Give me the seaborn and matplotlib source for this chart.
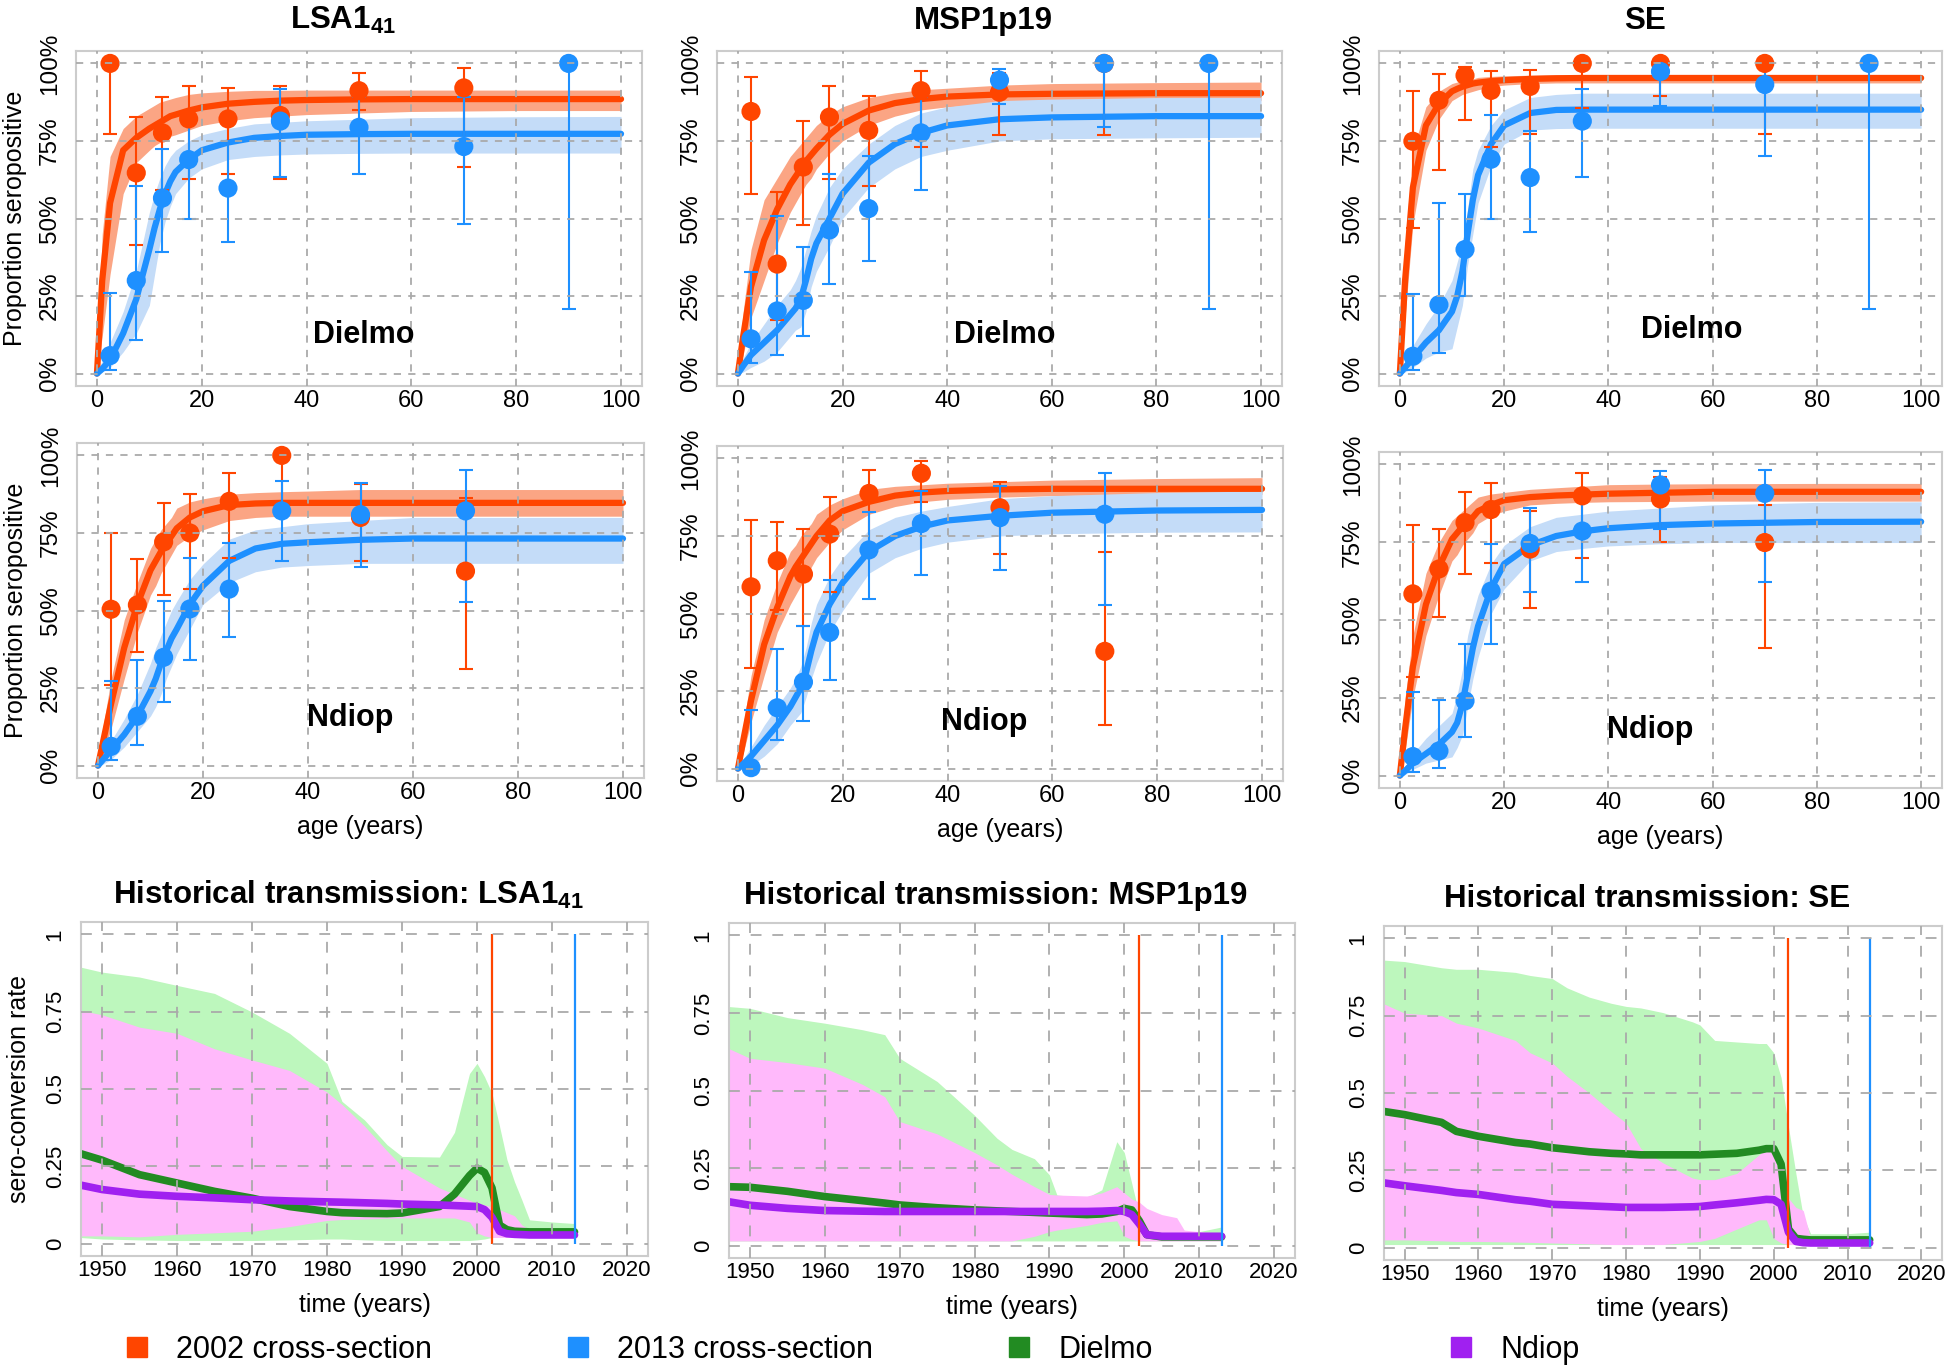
import numpy as np
import matplotlib.pyplot as plt
import seaborn as sns
from matplotlib.lines import Line2D

sns.set_style("white")
plt.rcParams['font.family'] = ['Liberation Sans', 'DejaVu Sans']
plt.rcParams['mathtext.fontset'] = 'custom'
plt.rcParams['mathtext.rm'] = 'Liberation Sans'
plt.rcParams['mathtext.bf'] = 'Liberation Sans:bold'
for k in ['text.color', 'axes.labelcolor', 'xtick.color', 'ytick.color']:
    plt.rcParams[k] = 'black'

# ---------------- data ----------------
ANTIGENS = ['LSA1', 'MSP1p19', 'SE']
SITES = ['Dielmo', 'Ndiop']
SURVEY_YEARS = [2002, 2013]
nan = np.nan

AGE_GROUPS = [2.5, 7.5, 12.5, 17.5, 25, 35, 50, 70, 90]
AGE_FIT = [0, 1, 2.5, 5, 7.5, 10, 11, 12, 13, 14, 15, 17.5, 20, 25, 30, 35, 40, 50, 60, 80, 100]

# observed seroprevalence per age group (2002 survey)
obs_2002 = {
    ('LSA1', 'Dielmo'): [1.0, 0.647, 0.776, 0.821, 0.821, 0.832, 0.912, 0.921, nan],
    ('MSP1p19', 'Dielmo'): [0.845, 0.353, 0.666, 0.827, 0.784, 0.912, 0.907, 1.0, nan],
    ('SE', 'Dielmo'): [0.749, 0.881, 0.961, 0.913, 0.926, 1.0, 1.0, 1.0, nan],
    ('LSA1', 'Ndiop'): [0.504, 0.518, 0.721, 0.75, 0.852, 1.0, 0.80, 0.627, nan],
    ('MSP1p19', 'Ndiop'): [0.586, 0.67, 0.627, 0.756, 0.887, 0.952, 0.841, 0.378, nan],
    ('SE', 'Ndiop'): [0.584, 0.664, 0.813, 0.855, 0.728, 0.899, 0.889, 0.749, nan],
}
obs_2002_lo = {
    ('LSA1', 'Dielmo'): [0.771, 0.414, 0.593, 0.628, 0.645, 0.628, 0.85, 0.666, nan],
    ('MSP1p19', 'Dielmo'): [0.578, 0.173, 0.479, 0.628, 0.604, 0.732, 0.768, 0.77, nan],
    ('SE', 'Dielmo'): [0.468, 0.656, 0.817, 0.731, 0.774, 0.857, 0.895, 0.772, nan],
    ('LSA1', 'Ndiop'): [0.26, 0.365, 0.55, 0.569, 0.668, 0.85, 0.66, 0.311, nan],
    ('MSP1p19', 'Ndiop'): [0.324, 0.512, 0.459, 0.57, 0.72, 0.86, 0.691, 0.141, nan],
    ('SE', 'Ndiop'): [0.318, 0.511, 0.647, 0.684, 0.54, 0.698, 0.752, 0.409, nan],
}
obs_2002_hi = {
    ('LSA1', 'Dielmo'): [1.0, 0.827, 0.893, 0.928, 0.921, 0.928, 0.968, 0.984, nan],
    ('MSP1p19', 'Dielmo'): [0.955, 0.586, 0.813, 0.928, 0.896, 0.974, 0.97, 1.0, nan],
    ('SE', 'Dielmo'): [0.911, 0.967, 0.988, 0.975, 0.979, 1.0, 1.0, 1.0, nan],
    ('LSA1', 'Ndiop'): [0.75, 0.665, 0.847, 0.875, 0.943, 1.0, 0.909, 0.864, nan],
    ('MSP1p19', 'Ndiop'): [0.802, 0.796, 0.774, 0.876, 0.962, 0.992, 0.925, 0.697, nan],
    ('SE', 'Ndiop'): [0.805, 0.792, 0.91, 0.941, 0.85, 0.971, 0.96, 0.87, nan],
}
# observed seroprevalence per age group (2013 survey)
obs_2013 = {
    ('LSA1', 'Dielmo'): [0.058, 0.30, 0.566, 0.69, 0.598, 0.814, 0.794, 0.732, 1.0],
    ('MSP1p19', 'Dielmo'): [0.112, 0.202, 0.236, 0.463, 0.532, 0.776, 0.946, 1.0, 1.0],
    ('SE', 'Dielmo'): [0.056, 0.222, 0.40, 0.691, 0.632, 0.814, 0.974, 0.932, 1.0],
    ('LSA1', 'Ndiop'): [0.062, 0.159, 0.349, 0.505, 0.569, 0.821, 0.809, 0.821, nan],
    ('MSP1p19', 'Ndiop'): [0.003, 0.196, 0.279, 0.439, 0.705, 0.79, 0.809, 0.82, nan],
    ('SE', 'Ndiop'): [0.061, 0.079, 0.24, 0.593, 0.746, 0.786, 0.934, 0.907, nan],
}
obs_2013_lo = {
    ('LSA1', 'Dielmo'): [0.013, 0.109, 0.393, 0.5, 0.425, 0.634, 0.645, 0.481, 0.208],
    ('MSP1p19', 'Dielmo'): [0.034, 0.059, 0.12, 0.289, 0.363, 0.593, 0.87, 0.794, 0.208],
    ('SE', 'Dielmo'): [0.013, 0.066, 0.251, 0.5, 0.455, 0.634, 0.862, 0.702, 0.208],
    ('LSA1', 'Ndiop'): [0.017, 0.068, 0.205, 0.341, 0.414, 0.659, 0.641, 0.526, nan],
    ('MSP1p19', 'Ndiop'): [0.0, 0.091, 0.152, 0.286, 0.547, 0.625, 0.64, 0.527, nan],
    ('SE', 'Ndiop'): [0.013, 0.024, 0.125, 0.423, 0.589, 0.623, 0.792, 0.621, nan],
}
obs_2013_hi = {
    ('LSA1', 'Dielmo'): [0.259, 0.604, 0.725, 0.834, 0.75, 0.918, 0.891, 0.891, 1.0],
    ('MSP1p19', 'Dielmo'): [0.329, 0.507, 0.409, 0.645, 0.70, 0.891, 0.982, 1.0, 1.0],
    ('SE', 'Dielmo'): [0.257, 0.549, 0.578, 0.835, 0.782, 0.918, 1.0, 0.99, 1.0],
    ('LSA1', 'Ndiop'): [0.273, 0.339, 0.531, 0.668, 0.718, 0.916, 0.911, 0.952, nan],
    ('MSP1p19', 'Ndiop'): [0.188, 0.384, 0.459, 0.609, 0.827, 0.895, 0.911, 0.952, nan],
    ('SE', 'Ndiop'): [0.27, 0.243, 0.422, 0.743, 0.861, 0.893, 0.98, 0.982, nan],
}

# fitted seroprevalence curves with credible bands
fit_2002 = {
    ('LSA1', 'Dielmo'): [0, 0.30, 0.55, 0.72, 0.76, 0.79, 0.80, 0.81, 0.82, 0.83, 0.835, 0.848, 0.858, 0.87, 0.876, 0.88, 0.882, 0.884, 0.885, 0.885, 0.885],
    ('MSP1p19', 'Dielmo'): [0, 0.12, 0.28, 0.43, 0.53, 0.61, 0.635, 0.66, 0.685, 0.705, 0.725, 0.77, 0.805, 0.848, 0.872, 0.885, 0.893, 0.90, 0.902, 0.904, 0.904],
    ('SE', 'Dielmo'): [0, 0.30, 0.60, 0.80, 0.87, 0.91, 0.918, 0.925, 0.93, 0.935, 0.938, 0.943, 0.946, 0.95, 0.952, 0.953, 0.953, 0.953, 0.953, 0.953, 0.953],
    ('LSA1', 'Ndiop'): [0, 0.08, 0.20, 0.38, 0.52, 0.63, 0.66, 0.69, 0.715, 0.74, 0.765, 0.80, 0.82, 0.84, 0.845, 0.847, 0.847, 0.847, 0.847, 0.847, 0.847],
    ('MSP1p19', 'Ndiop'): [0, 0.09, 0.22, 0.40, 0.52, 0.62, 0.65, 0.675, 0.70, 0.725, 0.75, 0.80, 0.83, 0.86, 0.88, 0.89, 0.895, 0.90, 0.902, 0.902, 0.902],
    ('SE', 'Ndiop'): [0, 0.15, 0.35, 0.55, 0.67, 0.76, 0.78, 0.80, 0.815, 0.83, 0.85, 0.87, 0.885, 0.895, 0.90, 0.903, 0.906, 0.909, 0.912, 0.912, 0.912],
}
fit_2002_lo = {
    ('LSA1', 'Dielmo'): [0, 0.12, 0.32, 0.58, 0.68, 0.72, 0.735, 0.745, 0.755, 0.765, 0.77, 0.785, 0.80, 0.815, 0.825, 0.83, 0.835, 0.84, 0.845, 0.848, 0.848],
    ('MSP1p19', 'Dielmo'): [0, 0.06, 0.18, 0.30, 0.42, 0.52, 0.55, 0.58, 0.61, 0.63, 0.66, 0.71, 0.75, 0.80, 0.83, 0.85, 0.86, 0.87, 0.875, 0.878, 0.88],
    ('SE', 'Dielmo'): [0, 0.18, 0.48, 0.72, 0.82, 0.88, 0.89, 0.90, 0.905, 0.91, 0.915, 0.925, 0.93, 0.935, 0.937, 0.937, 0.937, 0.937, 0.937, 0.937, 0.937],
    ('LSA1', 'Ndiop'): [0, 0.04, 0.12, 0.28, 0.43, 0.55, 0.58, 0.62, 0.65, 0.68, 0.71, 0.74, 0.76, 0.79, 0.80, 0.804, 0.804, 0.804, 0.804, 0.804, 0.804],
    ('MSP1p19', 'Ndiop'): [0, 0.05, 0.15, 0.30, 0.44, 0.53, 0.56, 0.59, 0.62, 0.65, 0.68, 0.73, 0.77, 0.82, 0.845, 0.86, 0.868, 0.875, 0.88, 0.884, 0.884],
    ('SE', 'Ndiop'): [0, 0.08, 0.25, 0.45, 0.58, 0.69, 0.71, 0.74, 0.76, 0.78, 0.81, 0.835, 0.85, 0.87, 0.875, 0.878, 0.88, 0.881, 0.882, 0.882, 0.882],
}
fit_2002_hi = {
    ('LSA1', 'Dielmo'): [0.02, 0.45, 0.70, 0.79, 0.83, 0.855, 0.865, 0.875, 0.88, 0.885, 0.89, 0.90, 0.905, 0.91, 0.913, 0.913, 0.914, 0.914, 0.914, 0.914, 0.914],
    ('MSP1p19', 'Dielmo'): [0.01, 0.20, 0.40, 0.56, 0.63, 0.70, 0.72, 0.74, 0.76, 0.78, 0.80, 0.835, 0.86, 0.89, 0.905, 0.915, 0.92, 0.93, 0.935, 0.938, 0.94],
    ('SE', 'Dielmo'): [0.02, 0.42, 0.72, 0.86, 0.91, 0.935, 0.94, 0.945, 0.948, 0.95, 0.955, 0.958, 0.96, 0.962, 0.964, 0.964, 0.964, 0.964, 0.964, 0.964, 0.964],
    ('LSA1', 'Ndiop'): [0.01, 0.13, 0.28, 0.47, 0.59, 0.70, 0.73, 0.76, 0.78, 0.80, 0.83, 0.85, 0.86, 0.875, 0.88, 0.883, 0.885, 0.89, 0.89, 0.89, 0.89],
    ('MSP1p19', 'Ndiop'): [0.01, 0.14, 0.30, 0.48, 0.60, 0.70, 0.72, 0.75, 0.77, 0.79, 0.82, 0.85, 0.87, 0.90, 0.91, 0.915, 0.92, 0.925, 0.93, 0.935, 0.938],
    ('SE', 'Ndiop'): [0.01, 0.25, 0.45, 0.65, 0.75, 0.82, 0.835, 0.85, 0.865, 0.88, 0.895, 0.905, 0.91, 0.92, 0.925, 0.93, 0.935, 0.937, 0.938, 0.939, 0.939],
}
fit_2013 = {
    ('LSA1', 'Dielmo'): [0, 0.015, 0.045, 0.13, 0.24, 0.40, 0.47, 0.53, 0.58, 0.62, 0.65, 0.69, 0.72, 0.745, 0.76, 0.766, 0.77, 0.772, 0.773, 0.773, 0.773],
    ('MSP1p19', 'Dielmo'): [0, 0.025, 0.06, 0.10, 0.14, 0.19, 0.21, 0.24, 0.30, 0.37, 0.42, 0.50, 0.58, 0.68, 0.74, 0.776, 0.80, 0.82, 0.826, 0.83, 0.83],
    ('SE', 'Dielmo'): [0, 0.02, 0.05, 0.10, 0.14, 0.20, 0.25, 0.33, 0.45, 0.56, 0.64, 0.74, 0.80, 0.84, 0.85, 0.851, 0.851, 0.851, 0.851, 0.851, 0.851],
    ('LSA1', 'Ndiop'): [0, 0.02, 0.05, 0.10, 0.16, 0.24, 0.28, 0.33, 0.37, 0.41, 0.44, 0.52, 0.58, 0.66, 0.70, 0.715, 0.72, 0.728, 0.732, 0.732, 0.732],
    ('MSP1p19', 'Ndiop'): [0, 0.015, 0.04, 0.09, 0.14, 0.20, 0.23, 0.26, 0.31, 0.38, 0.44, 0.53, 0.60, 0.70, 0.75, 0.78, 0.80, 0.815, 0.825, 0.832, 0.834],
    ('SE', 'Ndiop'): [0, 0.015, 0.04, 0.07, 0.10, 0.14, 0.17, 0.23, 0.32, 0.41, 0.48, 0.60, 0.68, 0.74, 0.77, 0.785, 0.795, 0.805, 0.81, 0.815, 0.816],
}
fit_2013_lo = {
    ('LSA1', 'Dielmo'): [0, 0.005, 0.02, 0.07, 0.13, 0.22, 0.32, 0.42, 0.49, 0.54, 0.58, 0.63, 0.66, 0.69, 0.70, 0.705, 0.708, 0.71, 0.711, 0.711, 0.711],
    ('MSP1p19', 'Dielmo'): [0, 0.005, 0.02, 0.04, 0.07, 0.12, 0.14, 0.15, 0.20, 0.28, 0.33, 0.41, 0.50, 0.60, 0.66, 0.70, 0.72, 0.75, 0.757, 0.76, 0.762],
    ('SE', 'Dielmo'): [0, 0.005, 0.02, 0.05, 0.07, 0.08, 0.15, 0.22, 0.35, 0.45, 0.55, 0.67, 0.74, 0.785, 0.79, 0.791, 0.791, 0.791, 0.791, 0.791, 0.791],
    ('LSA1', 'Ndiop'): [0, 0.005, 0.02, 0.06, 0.11, 0.16, 0.19, 0.23, 0.28, 0.32, 0.36, 0.44, 0.52, 0.59, 0.625, 0.64, 0.645, 0.652, 0.652, 0.652, 0.652],
    ('MSP1p19', 'Ndiop'): [0, 0.003, 0.01, 0.04, 0.08, 0.14, 0.16, 0.18, 0.23, 0.29, 0.34, 0.44, 0.51, 0.63, 0.68, 0.71, 0.73, 0.75, 0.757, 0.762, 0.763],
    ('SE', 'Ndiop'): [0, 0.003, 0.02, 0.04, 0.05, 0.06, 0.09, 0.13, 0.22, 0.31, 0.38, 0.52, 0.60, 0.69, 0.72, 0.73, 0.738, 0.745, 0.749, 0.749, 0.749],
}
fit_2013_hi = {
    ('LSA1', 'Dielmo'): [0.01, 0.04, 0.10, 0.20, 0.33, 0.52, 0.58, 0.63, 0.67, 0.70, 0.72, 0.75, 0.77, 0.79, 0.805, 0.81, 0.815, 0.82, 0.825, 0.828, 0.829],
    ('MSP1p19', 'Dielmo'): [0.01, 0.05, 0.10, 0.16, 0.22, 0.27, 0.30, 0.34, 0.40, 0.46, 0.51, 0.60, 0.66, 0.74, 0.80, 0.84, 0.86, 0.88, 0.885, 0.89, 0.89],
    ('SE', 'Dielmo'): [0.01, 0.04, 0.09, 0.16, 0.22, 0.30, 0.36, 0.42, 0.53, 0.66, 0.72, 0.80, 0.85, 0.89, 0.90, 0.904, 0.904, 0.904, 0.904, 0.904, 0.904],
    ('LSA1', 'Ndiop'): [0.01, 0.04, 0.08, 0.15, 0.23, 0.33, 0.38, 0.42, 0.46, 0.50, 0.53, 0.60, 0.65, 0.73, 0.76, 0.77, 0.78, 0.79, 0.80, 0.80, 0.80],
    ('MSP1p19', 'Ndiop'): [0.01, 0.03, 0.07, 0.14, 0.20, 0.26, 0.29, 0.33, 0.39, 0.47, 0.53, 0.62, 0.68, 0.77, 0.81, 0.83, 0.845, 0.87, 0.88, 0.89, 0.895],
    ('SE', 'Ndiop'): [0.01, 0.03, 0.07, 0.12, 0.16, 0.20, 0.26, 0.34, 0.45, 0.52, 0.58, 0.68, 0.74, 0.80, 0.83, 0.84, 0.85, 0.86, 0.87, 0.878, 0.88],
}

# historical sero-conversion rates
hist_years = {
    'LSA1': [1947, 1950, 1955, 1960, 1965, 1970, 1975, 1980, 1982, 1985, 1988, 1990, 1995, 1997, 1999,
             2000, 2001, 2002, 2003, 2004, 2005, 2006, 2007, 2010, 2013],
    'MSP1p19': [1947, 1950, 1955, 1960, 1965, 1968, 1970, 1975, 1980, 1983, 1985, 1988, 1990, 1991, 1995,
                1997, 1999, 2000, 2001, 2002, 2003, 2005, 2007, 2008, 2010, 2013],
    'SE': [1947, 1950, 1955, 1957, 1960, 1965, 1967, 1970, 1972, 1975, 1978, 1980, 1982, 1985, 1989, 1990,
           1992, 1995, 1998, 1999, 2000, 2001, 2002, 2003, 2004, 2005, 2010, 2013],
}
dielmo_rate = {
    'LSA1': [0.292, 0.27, 0.223, 0.196, 0.169, 0.147, 0.12, 0.104, 0.10, 0.098, 0.097, 0.099, 0.12, 0.16, 0.22,
             0.244, 0.23, 0.18, 0.06, 0.045, 0.04, 0.039, 0.038, 0.038, 0.038],
    'MSP1p19': [0.19, 0.188, 0.175, 0.158, 0.145, 0.137, 0.131, 0.122, 0.115, 0.112, 0.11, 0.107, 0.105, 0.104, 0.10,
                0.102, 0.11, 0.12, 0.115, 0.08, 0.035, 0.028, 0.028, 0.028, 0.028, 0.028],
    'SE': [0.441, 0.43, 0.405, 0.376, 0.36, 0.34, 0.335, 0.323, 0.318, 0.31, 0.305, 0.303, 0.30, 0.30, 0.30, 0.30,
           0.302, 0.305, 0.315, 0.32, 0.32, 0.27, 0.06, 0.03, 0.027, 0.025, 0.025, 0.025],
}
dielmo_lo = {
    'LSA1': [0.02, 0.015, 0.012, 0.01, 0.01, 0.01, 0.012, 0.015, 0.015, 0.012, 0.01, 0.01, 0.01, 0.01, 0.01,
             0.012, 0.015, 0.02, 0.025, 0.025, 0.025, 0.025, 0.025, 0.025, 0.025],
    'MSP1p19': [0.015, 0.015, 0.015, 0.015, 0.015, 0.015, 0.015, 0.015, 0.015, 0.015, 0.015, 0.015, 0.015, 0.015,
                0.015, 0.015, 0.015, 0.015, 0.015, 0.015, 0.015, 0.015, 0.015, 0.015, 0.015, 0.015],
    'SE': [0.01, 0.01, 0.01, 0.01, 0.01, 0.01, 0.01, 0.01, 0.01, 0.01, 0.01, 0.01, 0.01, 0.01, 0.01, 0.01,
           0.01, 0.01, 0.01, 0.01, 0.01, 0.01, 0.01, 0.01, 0.01, 0.01, 0.01, 0.01],
}
dielmo_hi = {
    'LSA1': [0.895, 0.878, 0.862, 0.835, 0.809, 0.749, 0.68, 0.583, 0.46, 0.40, 0.32, 0.282, 0.28, 0.36, 0.55,
             0.583, 0.54, 0.486, 0.38, 0.271, 0.20, 0.14, 0.077, 0.07, 0.065],
    'MSP1p19': [0.771, 0.765, 0.735, 0.717, 0.696, 0.68, 0.604, 0.529, 0.42, 0.346, 0.31, 0.28, 0.228, 0.163, 0.155,
                0.18, 0.335, 0.30, 0.20, 0.10, 0.06, 0.05, 0.045, 0.04, 0.045, 0.06],
    'SE': [0.93, 0.925, 0.905, 0.90, 0.90, 0.89, 0.88, 0.87, 0.84, 0.81, 0.79, 0.78, 0.775, 0.76, 0.73, 0.72,
           0.67, 0.665, 0.66, 0.66, 0.63, 0.55, 0.39, 0.24, 0.10, 0.045, 0.045, 0.05],
}
ndiop_rate = {
    'LSA1': [0.19, 0.175, 0.16, 0.153, 0.148, 0.142, 0.138, 0.135, 0.134, 0.132, 0.13, 0.128, 0.125, 0.123, 0.121,
             0.12, 0.11, 0.085, 0.04, 0.032, 0.03, 0.029, 0.028, 0.028, 0.028],
    'MSP1p19': [0.142, 0.13, 0.12, 0.113, 0.111, 0.11, 0.11, 0.11, 0.11, 0.11, 0.11, 0.11, 0.11, 0.11, 0.11,
                0.111, 0.113, 0.11, 0.10, 0.07, 0.035, 0.03, 0.03, 0.03, 0.03, 0.03],
    'SE': [0.21, 0.20, 0.185, 0.178, 0.172, 0.155, 0.15, 0.14, 0.138, 0.135, 0.132, 0.13, 0.13, 0.13, 0.132, 0.133,
           0.138, 0.145, 0.153, 0.156, 0.155, 0.14, 0.05, 0.02, 0.016, 0.015, 0.015, 0.015],
}
ndiop_lo = {
    'LSA1': [0.025, 0.025, 0.022, 0.03, 0.035, 0.04, 0.055, 0.075, 0.078, 0.08, 0.082, 0.083, 0.083, 0.083, 0.07,
             0.035, 0.025, 0.02, 0.02, 0.02, 0.02, 0.02, 0.02, 0.02, 0.02],
    'MSP1p19': [0.015, 0.015, 0.015, 0.015, 0.015, 0.015, 0.015, 0.015, 0.015, 0.015, 0.015, 0.03, 0.045, 0.05, 0.065,
                0.075, 0.08, 0.03, 0.02, 0.015, 0.015, 0.015, 0.015, 0.015, 0.015, 0.015],
    'SE': [0.025, 0.025, 0.022, 0.02, 0.02, 0.018, 0.017, 0.015, 0.014, 0.012, 0.01, 0.01, 0.01, 0.01, 0.018, 0.02,
           0.03, 0.06, 0.09, 0.09, 0.03, 0.015, 0.01, 0.01, 0.01, 0.01, 0.01, 0.01],
}
ndiop_hi = {
    'LSA1': [0.755, 0.74, 0.70, 0.68, 0.63, 0.594, 0.56, 0.49, 0.45, 0.38, 0.30, 0.25, 0.18, 0.16, 0.14,
             0.13, 0.125, 0.12, 0.11, 0.10, 0.09, 0.06, 0.045, 0.04, 0.035],
    'MSP1p19': [0.637, 0.604, 0.59, 0.572, 0.52, 0.48, 0.40, 0.36, 0.30, 0.26, 0.23, 0.19, 0.165, 0.163, 0.16,
                0.17, 0.19, 0.17, 0.15, 0.14, 0.12, 0.10, 0.09, 0.05, 0.045, 0.04],
    'SE': [0.79, 0.758, 0.75, 0.726, 0.71, 0.67, 0.63, 0.597, 0.554, 0.50, 0.44, 0.403, 0.32, 0.274, 0.225, 0.22,
           0.22, 0.24, 0.30, 0.32, 0.30, 0.22, 0.16, 0.13, 0.12, 0.03, 0.02, 0.02],
}

# ---------------- style ----------------
C02, C13 = '#ff4500', '#1e90ff'
BAND02, BAND13 = '#fba584', '#c4dcf8'
C_DIELMO, C_NDIOP = '#228b22', '#a020f0'
BAND_DIELMO, BAND_NDIOP = '#bdf7bd', '#ffb9fb'
GRID = '#aaaaaa'

W, H = 1955, 1371
fig = plt.figure(figsize=(W / 100, H / 100), dpi=100)


def add_ax(l, t, r, b):
    return fig.add_axes([l / W, 1 - b / H, (r - l) / W, (b - t) / H])


def style_box(ax, dash):
    for s in ax.spines.values():
        s.set_color('#cccccc')
        s.set_linewidth(1.5)
    ax.grid(True, color=GRID, linestyle=(0, dash), linewidth=1.3)
    ax.xaxis.set_zorder(6)
    ax.yaxis.set_zorder(6)
    ax.tick_params(length=0)


def sero_panel(ax, antigen, site, show_ylabel, show_xlabel, title):
    key = (antigen, site)
    ax.fill_between(AGE_FIT, fit_2002_lo[key], fit_2002_hi[key], color=BAND02, lw=0, zorder=1)
    ax.fill_between(AGE_FIT, fit_2013_lo[key], fit_2013_hi[key], color=BAND13, lw=0, zorder=1)
    for fit, col in [(fit_2002, C02), (fit_2013, C13)]:
        sns.lineplot(x=AGE_FIT, y=fit[key], ax=ax, color=col, lw=4.5, estimator=None,
                     sort=False, solid_capstyle='round', zorder=2, legend=False)
    ages = np.array(AGE_GROUPS)
    for obs, lo, hi, col in [(obs_2002, obs_2002_lo, obs_2002_hi, C02),
                             (obs_2013, obs_2013_lo, obs_2013_hi, C13)]:
        y = np.array(obs[key], dtype=float)
        ylo = np.array(lo[key], dtype=float)
        yhi = np.array(hi[key], dtype=float)
        m = ~np.isnan(y)
        ax.errorbar(ages[m], y[m], yerr=[y[m] - ylo[m], yhi[m] - y[m]], fmt='none',
                    ecolor=col, elinewidth=1.5, capsize=5, capthick=1.5, zorder=3)
        sns.scatterplot(x=ages[m], y=y[m], ax=ax, color=col, s=190, edgecolor='none',
                        zorder=4, legend=False)
    ax.set_xlim(-4, 104)
    ax.set_ylim(-0.04, 1.04)
    ax.set_xticks([0, 20, 40, 60, 80, 100])
    ax.set_xticklabels(['0', '20', '40', '60', '80', '100'])
    ax.set_yticks([0, 0.25, 0.5, 0.75, 1.0])
    ax.set_yticklabels(['0%', '25%', '50%', '75%', '100%'])
    style_box(ax, (4, 4))
    ax.tick_params(axis='x', labelsize=17, pad=3)
    ax.tick_params(axis='y', labelsize=17.5, pad=11, labelrotation=90)
    for lbl in ax.get_yticklabels():
        lbl.set_va('center')
    ax.set_xlabel('')
    ax.set_ylabel('')
    if show_ylabel:
        ax.set_ylabel('Proportion seropositive', fontsize=18, va='center')
        ax.yaxis.set_label_coords(-0.108, 0.5)
    if show_xlabel:
        ax.set_xlabel('age (years)', fontsize=18, va='center')
        ax.xaxis.set_label_coords(0.5, -0.146)
    if title:
        ax.text(0.472, 1.09, title, transform=ax.transAxes, ha='center', va='center',
                fontsize=22.5, fontweight='bold')


def hist_panel(ax, antigen, show_ylabel, title):
    yrs = hist_years[antigen]
    ax.fill_between(yrs, dielmo_lo[antigen], dielmo_hi[antigen], color=BAND_DIELMO, lw=0, zorder=1)
    ax.fill_between(yrs, ndiop_lo[antigen], ndiop_hi[antigen], color=BAND_NDIOP, lw=0, zorder=1)
    sns.lineplot(x=yrs, y=dielmo_rate[antigen], ax=ax, color=C_DIELMO, lw=5.5, estimator=None,
                 sort=False, zorder=2, legend=False)
    sns.lineplot(x=yrs, y=ndiop_rate[antigen], ax=ax, color=C_NDIOP, lw=5.5, estimator=None,
                 sort=False, zorder=2, legend=False)
    ax.vlines(SURVEY_YEARS[0], 0, 1, color=C02, lw=1.6, zorder=3)
    ax.vlines(SURVEY_YEARS[1], 0, 1, color=C13, lw=1.6, zorder=3)
    ax.set_xlim(1947.2, 2022.8)
    ax.set_ylim(-0.04, 1.04)
    ax.set_xticks(list(range(1950, 2021, 10)))
    ax.set_yticks([0, 0.25, 0.5, 0.75, 1.0])
    ax.set_yticklabels(['0', '0.25', '0.5', '0.75', '1'])
    style_box(ax, (6, 6))
    ax.tick_params(axis='x', labelsize=16, pad=3)
    ax.tick_params(axis='y', labelsize=16, pad=11, labelrotation=90)
    for lbl in ax.get_yticklabels():
        lbl.set_va('center')
    ax.set_ylabel('')
    ax.set_xlabel('time (years)', fontsize=18, va='center')
    ax.xaxis.set_label_coords(0.5, -0.147)
    if show_ylabel:
        ax.set_ylabel('sero-conversion rate', fontsize=18, va='center')
        ax.yaxis.set_label_coords(-0.109, 0.5)
    ax.text(0.472, 1.08, title, transform=ax.transAxes, ha='center', va='center',
            fontsize=22.5, fontweight='bold')


titles = {'LSA1': r'LSA1$_{\mathbf{41}}$', 'MSP1p19': 'MSP1p19', 'SE': 'SE'}

row1 = [(76, 51, 642, 386), (717, 51, 1282, 386), (1379, 51, 1942, 386)]
row2 = [(77, 443, 644, 778), (717, 446, 1283, 781), (1379, 452, 1942, 788)]
row3 = [(81, 922, 648, 1256), (729, 923, 1295, 1258), (1384, 926, 1942, 1260)]
site_pos = {
    ('LSA1', 'Dielmo'): (51, 0.125), ('MSP1p19', 'Dielmo'): (51, 0.125), ('SE', 'Dielmo'): (56, 0.14),
    ('LSA1', 'Ndiop'): (48, 0.155), ('MSP1p19', 'Ndiop'): (47, 0.15), ('SE', 'Ndiop'): (48, 0.147),
}

for i, ag in enumerate(ANTIGENS):
    ax = add_ax(*row1[i])
    sero_panel(ax, ag, 'Dielmo', i == 0, False, titles[ag])
    ax.text(*site_pos[(ag, 'Dielmo')], 'Dielmo', ha='center', va='center', fontsize=22,
            fontweight='bold', zorder=7)

    ax = add_ax(*row2[i])
    sero_panel(ax, ag, 'Ndiop', i == 0, True, None)
    ax.text(*site_pos[(ag, 'Ndiop')], 'Ndiop', ha='center', va='center', fontsize=22,
            fontweight='bold', zorder=7)

    ax = add_ax(*row3[i])
    hist_panel(ax, ag, i == 0, 'Historical transmission: ' + titles[ag])

# legend
legend_items = [('2002 cross-section', C02, 126), ('2013 cross-section', C13, 567),
                ('Dielmo', C_DIELMO, 1008), ('Ndiop', C_NDIOP, 1450)]
for label, col, xpix in legend_items:
    h = Line2D([], [], marker='s', color=col, linestyle='none', markersize=15)
    fig.legend(handles=[h], labels=[label], loc='center left',
               bbox_to_anchor=(xpix / W, 1 - 1350 / H), frameon=False, fontsize=22,
               handlelength=0.7, handletextpad=0.95, borderpad=0, borderaxespad=0)

fig.savefig('out.png', dpi=100)
